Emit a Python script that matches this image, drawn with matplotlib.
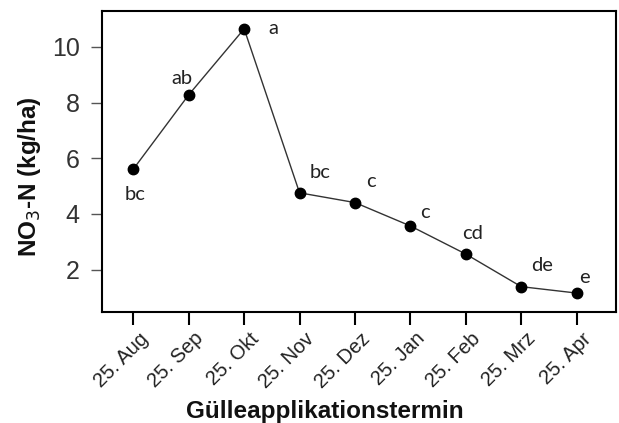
import matplotlib
matplotlib.use("Agg")
import matplotlib.pyplot as plt
from matplotlib.transforms import ScaledTranslation, blended_transform_factory

dates = ["25. Aug", "25. Sep", "25. Okt", "25. Nov", "25. Dez", "25. Jan", "25. Feb", "25. Mrz", "25. Apr"]
no3n = [5.61, 8.28, 10.65, 4.76, 4.41, 3.57, 2.56, 1.39, 1.16]
letters = ["bc", "ab", "a", "bc", "c", "c", "cd", "de", "e"]
# label offsets in pixels (dx right, dy up)
lab_dx = [2, -7, 29, 20, 16, 15, 7, 21, 8]
lab_dy = [-25, 16, 0, 20, 21, 13, 21, 21, 16]

W, H = 619, 423
fig = plt.figure(figsize=(W/100, H/100), dpi=100)
ax = fig.add_axes([102/W, 1-312/H, (616-102)/W, (312-11)/H])

x = list(range(len(dates)))
ax.plot(x, no3n, color="#333333", lw=1.0, marker="o", ms=7.5, mfc="black", mec="black", zorder=3)

px = 0.72
for xi, yi, lab, dx, dy in zip(x, no3n, letters, lab_dx, lab_dy):
    ax.annotate(lab, (xi, yi), xytext=(dx*px, dy*px), textcoords="offset points",
                ha="center", va="center", fontsize=14.5, family="Lato", color="#222222")

ax.set_xlim(-0.565, 8.71)
ax.set_ylim(0.48, 11.29)
ax.set_yticks([2, 4, 6, 8, 10])
ax.set_xticks(x)
ax.set_xticklabels([])
trans = blended_transform_factory(ax.transData, ax.transAxes) + \
    ScaledTranslation(5/100, -17/100, fig.dpi_scale_trans)
for xi, d in zip(x, dates):
    ax.text(xi, 0, d, transform=trans, rotation=45, ha="right", va="top",
            rotation_mode="anchor", family="Liberation Sans", fontsize=14.5, color="#222222",
            clip_on=False)
for lbl in ax.get_yticklabels():
    lbl.set_family("Liberation Sans")
    lbl.set_fontsize(18)
    lbl.set_color("#333333")

ax.tick_params(axis="y", direction="out", length=8, width=1.0, pad=8, color="#555555")
ax.tick_params(axis="x", direction="out", length=9, width=1.5, pad=2)
for s in ax.spines.values():
    s.set_linewidth(1.5)

fig.text(325/W, 1-(411)/H, "Gülleapplikationstermin", ha="center", va="center",
         fontsize=17.5, fontweight="bold", family="Liberation Sans", color="#111111")
fig.text(30/W, 1-177/H, "NO$_3$-N (kg/ha)", ha="center", va="center", rotation=90,
         fontsize=17.5, fontweight="bold", family="Liberation Sans", color="#111111")

fig.savefig("out.png", dpi=100)
